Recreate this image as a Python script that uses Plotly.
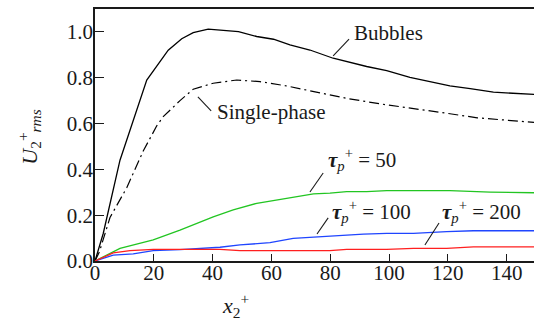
import plotly.graph_objects as go

# Wall-normal distance x2+ and r.m.s. wall-normal velocity U2+rms for each case
bubbles_x = [0, 2.8, 8.5, 17.6, 24.9, 29.5, 33.4, 38.5, 48.8, 55, 60.7, 66.3, 73.1,
             81, 92.4, 99.2, 107.1, 113.9, 120.7, 127.6, 135.5, 149.3]
bubbles_y = [0, 0.12, 0.44, 0.79, 0.92, 0.97, 0.997, 1.012, 1.001, 0.98, 0.968, 0.943,
             0.921, 0.885, 0.849, 0.831, 0.802, 0.783, 0.764, 0.752, 0.737, 0.727]

single_x = [0, 1.5, 5.1, 10.8, 16.4, 21, 23.2, 28.9, 33.4, 40.2, 48.2, 56.1, 65.2,
            74.3, 85.6, 96.9, 108.3, 119.6, 130, 140, 149.3]
single_y = [0, 0.04, 0.19, 0.32, 0.48, 0.59, 0.63, 0.70, 0.75, 0.776, 0.79, 0.783,
            0.764, 0.739, 0.71, 0.686, 0.667, 0.645, 0.625, 0.613, 0.605]

tau50_x = [0, 8.5, 19.8, 28.9, 40.2, 47, 55, 60.7, 67.4, 74.3, 79.9, 85.6, 92.4,
           99.2, 120.7, 127.6, 134.4, 149.3]
tau50_y = [0, 0.055, 0.092, 0.135, 0.193, 0.223, 0.252, 0.264, 0.281, 0.293, 0.296,
           0.303, 0.303, 0.307, 0.307, 0.303, 0.301, 0.298]

tau100_x = [0, 6.2, 13, 19.8, 28.9, 42.5, 49.3, 59.5, 67.4, 79.9, 91.3, 99.2, 108.3,
            119.6, 128.7, 149.3]
tau100_y = [0, 0.026, 0.031, 0.045, 0.05, 0.06, 0.07, 0.08, 0.099, 0.109, 0.117,
            0.121, 0.121, 0.128, 0.132, 0.132]

tau200_x = [0, 6.2, 11.9, 19.8, 28.9, 42.5, 49.3, 62.9, 79.9, 85.6, 99.2, 108.3,
            119.6, 128.7, 149.3]
tau200_y = [0, 0.035, 0.045, 0.051, 0.051, 0.051, 0.045, 0.045, 0.045, 0.051, 0.051,
            0.055, 0.055, 0.062, 0.062]

x_ticks = [0, 20, 40, 60, 80, 100, 120, 140]
y_ticks = [0.0, 0.2, 0.4, 0.6, 0.8, 1.0]
y_tick_text = ["0.0", "0.2", "0.4", "0.6", "0.8", "1.0"]

SERIF = "Liberation Serif"
INK = "#1a1a1a"

fig = go.Figure()
fig.add_trace(go.Scatter(x=bubbles_x, y=bubbles_y, mode="lines",
                         line=dict(color="black", width=1.3)))
fig.add_trace(go.Scatter(x=single_x, y=single_y, mode="lines",
                         line=dict(color="black", width=1.2, dash="10px,4px,2px,4px")))
fig.add_trace(go.Scatter(x=tau50_x, y=tau50_y, mode="lines",
                         line=dict(color="#22c522", width=1.3)))
fig.add_trace(go.Scatter(x=tau100_x, y=tau100_y, mode="lines",
                         line=dict(color="#1f45ff", width=1.3)))
fig.add_trace(go.Scatter(x=tau200_x, y=tau200_y, mode="lines",
                         line=dict(color="#ff1f1f", width=1.3)))

tau = "<b><i>τ</i></b><sub><i>p</i></sub><sup>+</sup> = "
labels = [
    # text, anchor (x, y), leader line from (x0, y0) to (x1, y1)
    ("Bubbles", 87.4, 0.995, (81.0, 0.895, 86.4, 0.969)),
    ("Single-phase", 40.8, 0.65, (35.0, 0.716, 39.5, 0.655)),
    (tau + "50", 78.6, 0.443, (73.1, 0.301, 77.6, 0.384)),
    (tau + "100", 79.9, 0.214, (75.5, 0.118, 79.3, 0.188)),
    (tau + "200", 117.3, 0.214, (112.2, 0.07, 117.0, 0.166)),
]
for text, ax, ay, (x0, y0, x1, y1) in labels:
    fig.add_annotation(x=ax, y=ay, xref="x", yref="y", text=text, showarrow=False,
                       xanchor="left", yanchor="middle",
                       font=dict(family=SERIF, size=21, color=INK))
    fig.add_shape(type="line", x0=x0, y0=y0, x1=x1, y1=y1, xref="x", yref="y",
                  line=dict(color=INK, width=1.1))

# Axis titles, placed in paper coordinates relative to the plot area
fig.add_annotation(x=0.32, y=-0.175, xref="paper", yref="paper", showarrow=False,
                   xanchor="center", yanchor="middle",
                   text="<i>x</i><sub>2</sub><sup>+</sup>",
                   font=dict(family=SERIF, size=22, color=INK))
fig.add_annotation(x=-0.15, y=0.49, xref="paper", yref="paper", showarrow=False,
                   xanchor="center", yanchor="middle", textangle=-90,
                   text="<i>U</i><sub>2</sub><sup>+</sup><sub><i>rms</i></sub>",
                   font=dict(family=SERIF, size=22, color=INK))

fig.update_layout(
    width=534, height=324,
    margin=dict(l=95, r=0, t=9, b=63),
    paper_bgcolor="white", plot_bgcolor="white",
    showlegend=False,
    font=dict(family=SERIF, size=21, color=INK),
)
fig.update_xaxes(range=[0, 149.3], tickvals=x_ticks, ticks="inside", ticklen=7,
                 tickwidth=1.2, tickcolor=INK, showline=True, linecolor=INK, linewidth=1.5,
                 mirror=True, showgrid=False, zeroline=False, ticklabelstandoff=-8,
                 tickfont=dict(family=SERIF, size=21, color=INK))
fig.update_yaxes(range=[0, 1.1], tickvals=y_ticks, ticktext=y_tick_text, ticks="inside",
                 ticklen=9, tickwidth=1.2, tickcolor=INK, showline=True, linecolor=INK,
                 linewidth=1.5, showgrid=False, zeroline=False, ticklabelstandoff=-4,
                 tickfont=dict(family=SERIF, size=21, color=INK))

fig.write_html("out.html")
